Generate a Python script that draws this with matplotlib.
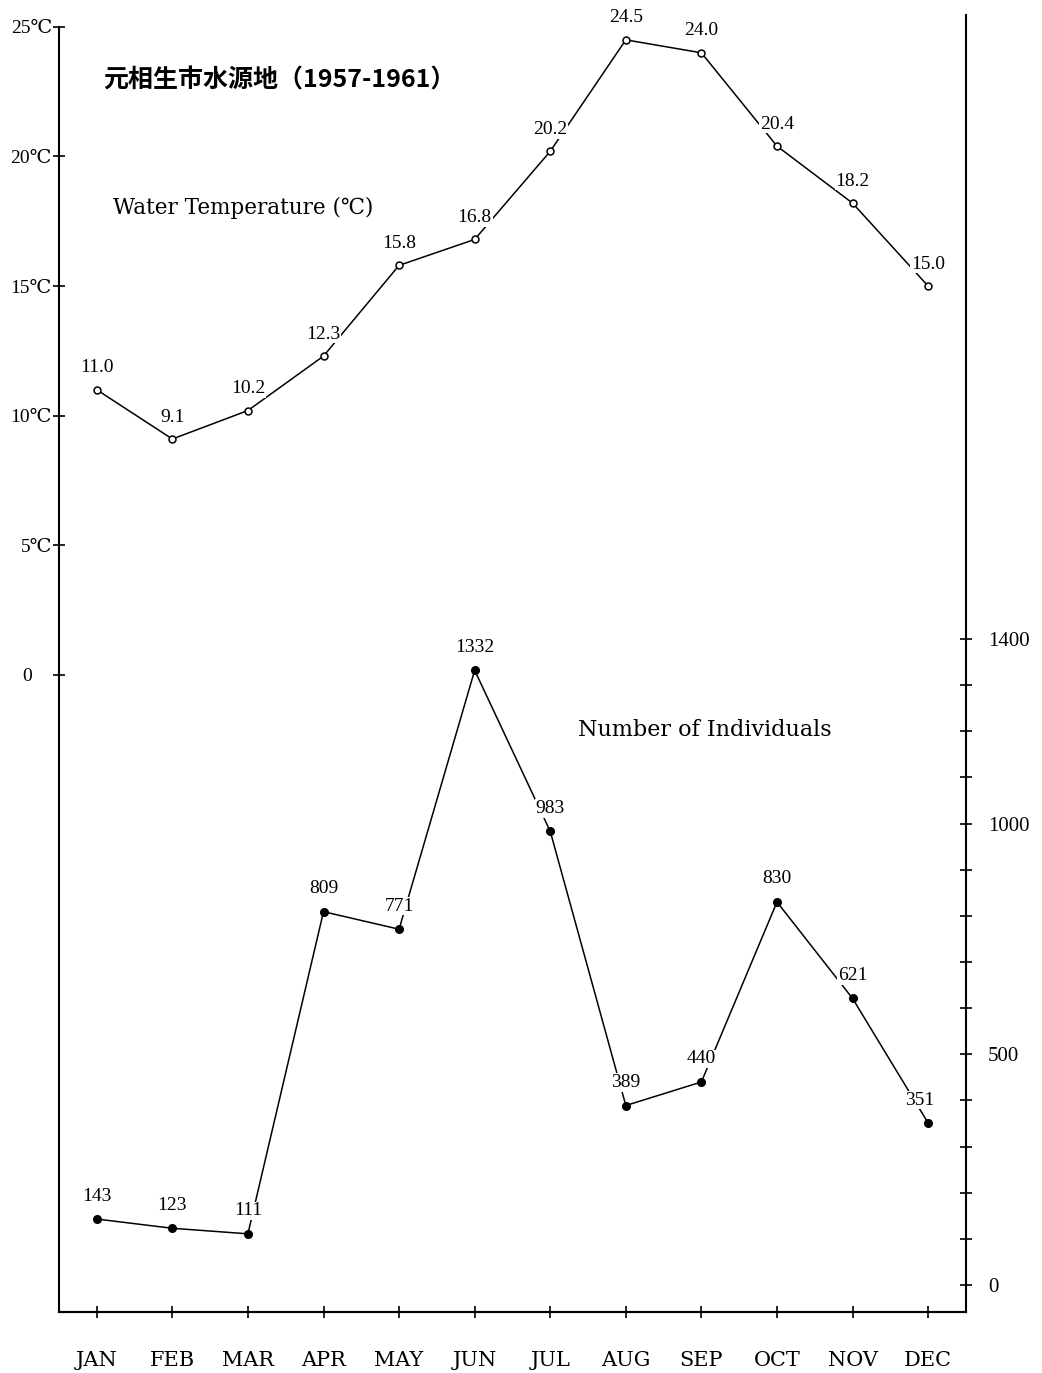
import numpy as np
import matplotlib
matplotlib.use("Agg")
import matplotlib.pyplot as plt

# monthly means, 元相生市水源地 1957-1961
months = ["JAN", "FEB", "MAR", "APR", "MAY", "JUN", "JUL", "AUG", "SEP", "OCT", "NOV", "DEC"]
water_temp = [11.0, 9.1, 10.2, 12.3, 15.8, 16.8, 20.2, 24.5, 24.0, 20.4, 18.2, 15.0]
individuals = [143, 123, 111, 809, 771, 1332, 983, 389, 440, 830, 621, 351]

temp_ticks = [0, 5, 10, 15, 20, 25]
temp_ticklabels = ["0    ", "5℃", "10℃", "15℃", "20℃", "25℃"]
count_ticks = [0, 500, 1000, 1400]
count_minor = list(range(0, 1500, 100))

serif = ["Liberation Serif", "DejaVu Serif", "Noto Sans CJK JP"]
wide = ["DejaVu Serif", "Noto Sans CJK JP"]
plt.rcParams["font.family"] = serif

fig = plt.figure(figsize=(10.42, 13.73), dpi=100)
ax = fig.add_axes([0.0566, 0.0444, 0.8704, 0.9447])
ax2 = ax.twinx()

x = np.arange(len(months))

# temperature (left axis)
ax.plot(x, water_temp, color="black", lw=1.1, marker="o", ms=5, mfc="white",
        mec="black", mew=1.1, zorder=3)
for xi, v in zip(x, water_temp):
    ax.annotate(f"{v:.1f}", (xi, v), xytext=(0, 22), textcoords="offset pixels",
                ha="center", va="center", fontsize=14, zorder=5,
                bbox=dict(fc="white", ec="none", pad=0.5))

# individuals (right axis)
ax2.plot(x, individuals, color="black", lw=1.1, marker="o", ms=5.5, mfc="black",
         mec="black", zorder=3)
for xi, v in zip(x, individuals):
    dx = -8 if months[xi] == "DEC" else 0
    ax2.annotate(str(v), (xi, v), xytext=(dx, 23), textcoords="offset pixels",
                 ha="center", va="center", fontsize=14, zorder=5,
                 bbox=dict(fc="white", ec="none", pad=0.5))

ax.set_xlim(-0.5, 11.5)
ax.set_ylim(-24.58, 25.46)
ax2.set_ylim(-58.5, 2752)

for a in (ax, ax2):
    a.spines["top"].set_visible(False)
    for s in a.spines.values():
        s.set_linewidth(1.5)
ax.spines["left"].set_bounds(-24.58, 25)
ax.spines["right"].set_visible(False)
ax2.spines["left"].set_visible(False)

ax.set_xticks(x)
ax.set_xticklabels(months, fontsize=15, family=wide)
ax.tick_params(axis="x", direction="inout", length=8, width=1.2, pad=24)

ax.set_yticks(temp_ticks)
ax.set_yticklabels(temp_ticklabels, fontsize=14)
ax.tick_params(axis="y", direction="inout", length=8, width=1.2, pad=1)

ax2.set_yticks(count_ticks)
ax2.set_yticks(count_minor, minor=True)
ax2.tick_params(axis="y", which="both", direction="inout", length=8, width=1.2)
ax2.tick_params(axis="y", which="major", pad=12, labelsize=15)

fig.text(0.0988, 0.9417, "元相生市水源地（1957-1961）", fontsize=18, fontweight="bold",
         family=["Noto Sans CJK JP", "DejaVu Sans"], va="center", ha="left")
fig.text(0.1084, 0.8485, "Water Temperature (℃)", fontsize=15.5, family=wide,
         va="center", ha="left")
fig.text(0.5547, 0.4683, "Number of Individuals", fontsize=16, family=wide,
         va="center", ha="left")

fig.savefig("out.png", dpi=100)
